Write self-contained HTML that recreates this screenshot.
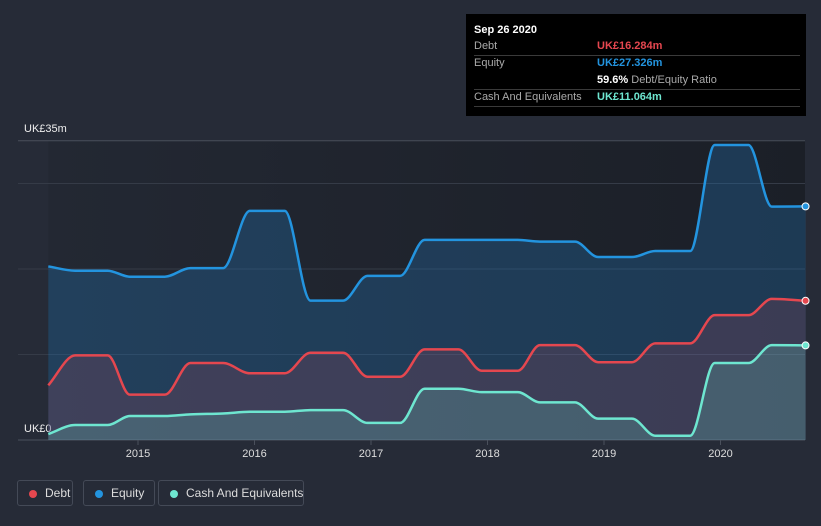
<!DOCTYPE html>
<html><head><meta charset="utf-8">
<style>
body{margin:0;background:#262b37;font-family:"Liberation Sans",sans-serif;}
#wrap{position:relative;width:821px;height:526px;overflow:hidden;background:#262b37;}
.tt{position:absolute;left:466px;top:14px;width:340px;height:102px;background:#000;color:#fff;font-size:11px;}
.tt .row{position:absolute;left:8px;width:326px;border-bottom:1px solid #3a3a3a;height:17px;}
.tt .l{position:absolute;left:0;top:2px;color:#aaa}
.tt .v{position:absolute;left:123px;top:2px;font-weight:bold}
.leg{position:absolute;top:480px;height:26px;border:1px solid #444a57;border-radius:3px;color:#ddd;font-size:12px;line-height:25px;box-sizing:border-box;padding-left:27px;white-space:nowrap}
.leg i{position:absolute;left:11px;top:9px;width:8px;height:8px;border-radius:50%}
</style></head><body>
<div id="wrap">
<svg id="chart" width="821" height="526" style="position:absolute;left:0;top:0"></svg>
<div class="tt">
 <div style="position:absolute;left:8px;top:10px;font-weight:bold;font-size:11px">Sep 26 2020</div>
 <div class="row" style="top:24px"><span class="l">Debt</span><span class="v" style="color:#e5474f">UK£16.284m</span></div>
 <div class="row" style="top:41px;border:none"><span class="l">Equity</span><span class="v" style="color:#2394df">UK£27.326m</span></div>
 <div class="row" style="top:58px"><span class="v" style="color:#fff">59.6% <span style="color:#aaa;font-weight:normal">Debt/Equity Ratio</span></span></div>
 <div class="row" style="top:75px"><span class="l">Cash And Equivalents</span><span class="v" style="color:#6ee6d0">UK£11.064m</span></div>
</div>
<div class="leg" style="left:17px;width:56px"><i style="background:#e5474f"></i>Debt</div>
<div class="leg" style="left:83px;width:72px"><i style="background:#2394df"></i>Equity</div>
<div class="leg" style="left:158px;width:146px"><i style="background:#6ee6d0"></i>Cash And Equivalents</div>
</div>
<script>
const dates=[2014.23,2014.46,2014.74,2014.93,2015.23,2015.45,2015.73,2015.96,2016.26,2016.48,2016.76,2016.97,2017.25,2017.46,2017.75,2017.95,2018.26,2018.45,2018.75,2018.95,2019.24,2019.44,2019.74,2019.95,2020.24,2020.44,2020.73];
const equity=[20.3,19.8,19.8,19.1,19.1,20.1,20.1,26.8,26.8,16.3,16.3,19.2,19.2,23.4,23.4,23.4,23.4,23.2,23.2,21.4,21.4,22.1,22.1,34.5,34.5,27.3,27.326];
const debt=[6.4,9.9,9.9,5.3,5.3,9.0,9.0,7.8,7.8,10.2,10.2,7.4,7.4,10.6,10.6,8.1,8.1,11.1,11.1,9.1,9.1,11.3,11.3,14.6,14.6,16.5,16.284];
const cash=[0.7,1.75,1.75,2.8,2.8,3.0,3.1,3.3,3.3,3.5,3.5,2.0,2.0,6.0,6.0,5.6,5.6,4.4,4.4,2.5,2.5,0.5,0.5,9.0,9.0,11.1,11.064];
const yTicks=[0,10,20,30,35];
const xYears=[2015,2016,2017,2018,2019,2020];
const NS='http://www.w3.org/2000/svg';
const svg=document.getElementById('chart');
const X=t=>138+(t-2015)*116.5;
const Y=v=>440-v*8.55;
function el(n,a,p){const e=document.createElementNS(NS,n);for(const k in a)e.setAttribute(k,a[k]);(p||svg).appendChild(e);return e;}
const defs=el('defs',{});
const g1=el('linearGradient',{id:'bg',x1:0,y1:0,x2:1,y2:0},defs);
el('stop',{offset:0,'stop-color':'#232833'},g1);el('stop',{offset:1,'stop-color':'#1b1f27'},g1);
const bgr=el('rect',{x:X(dates[0]),y:140,width:805-X(dates[0]),height:300,fill:'url(#bg)'});


yTicks.forEach(v=>{const l=el('line',{x1:18,x2:805,y1:Y(v),y2:Y(v),stroke:v==35||v==0?'#4a505c':'#353b47','stroke-width':1});

});
const t1=el('text',{x:24,y:132,fill:'#eee','font-size':11});t1.textContent='UK£'+yTicks[4]+'m';


const t0=el('text',{x:24,y:432,fill:'#eee','font-size':11});t0.textContent='UK£'+yTicks[0];


xYears.forEach(y=>{el('line',{x1:X(y),x2:X(y),y1:440,y2:445,stroke:'#4a505c'});
const t=el('text',{x:X(y),y:457,fill:'#ddd','font-size':11,'text-anchor':'middle'});t.textContent=y;

});
function path(vals){
 const p=dates.map((d,i)=>[X(d),Y(vals[i])]);const n=p.length;
 const m=[];const s=[];
 for(let i=0;i<n-1;i++)s.push((p[i+1][1]-p[i][1])/(p[i+1][0]-p[i][0]));
 for(let i=0;i<n;i++){if(i==0)m.push(s[0]);else if(i==n-1)m.push(s[n-2]);else m.push(s[i-1]*s[i]<=0?0:(s[i-1]+s[i])/2);}
 for(let i=0;i<n-1;i++){if(s[i]==0){m[i]=0;m[i+1]=0;}}
 let d='M'+p[0][0]+','+p[0][1];
 for(let i=0;i<n-1;i++){const h=(p[i+1][0]-p[i][0])/3;
  d+=`C${p[i][0]+h},${p[i][1]+m[i]*h} ${p[i+1][0]-h},${p[i+1][1]-m[i+1]*h} ${p[i+1][0]},${p[i+1][1]}`;}
 return d;}
const base=`L${X(dates[dates.length-1])},440L${X(dates[0])},440Z`;
const series=[['equity',equity,'#2394df','rgba(35,110,170,0.35)'],['debt',debt,'#e5474f','rgba(200,70,90,0.18)'],['cash',cash,'#6ee6d0','rgba(110,230,208,0.2)']];
series.forEach(([n,v,c,f])=>{const a=el('path',{d:path(v)+base,fill:f});

});
series.forEach(([n,v,c])=>{const l=el('path',{d:path(v),fill:'none',stroke:c,'stroke-width':2.5});


const dt=el('circle',{cx:X(dates[dates.length-1]),cy:Y(v[v.length-1]),r:3.5,fill:c,stroke:'#fff','stroke-width':1});

});
</script>
</body></html>
